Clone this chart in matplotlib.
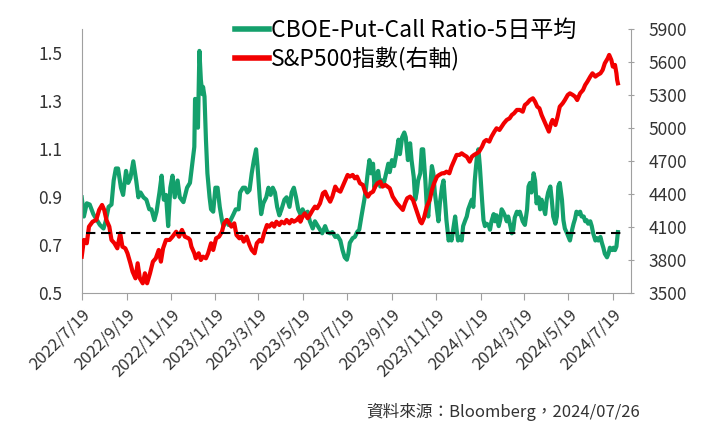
import matplotlib
matplotlib.use("Agg")
import matplotlib.pyplot as plt
from matplotlib.lines import Line2D
import numpy as np
import pandas as pd

plt.rcParams['font.family'] = ['Noto Sans CJK TC', 'DejaVu Sans']

# fecha base y días transcurridos
fecha_inicio = '2022-07-19'

pc_dias = [0, 3, 7, 11, 16, 21, 25, 30, 33, 37, 41, 44, 47, 50, 54, 57, 61, 64, 67, 71,
           75, 78, 81, 85, 89, 93, 96, 100, 103, 107, 110, 113, 116, 119, 122, 125, 128, 132, 135, 140,
           145,
           149, 153, 155, 156, 158, 160, 162, 164, 166, 167, 169, 171, 173, 176, 178, 181, 184, 187, 190,
           193, 195, 199, 202, 205, 209, 212, 216, 218, 222, 225, 228, 231, 234, 237, 240, 242, 245, 247,
           250, 254, 257, 260, 263, 266, 269, 272, 275, 279, 282, 286, 289, 292, 295, 298,
           301, 304, 307, 311, 314, 318, 321, 324, 328, 331, 335, 338, 342, 345, 349, 352, 356, 359, 362,
           365, 367, 369, 373, 376, 379, 382, 385, 389, 391, 394, 396, 398, 401, 403, 405, 408, 411, 413,
           416, 419, 422, 424, 427, 430, 433, 436, 438, 441, 444, 446, 449,
           452, 454, 457, 459, 461, 463, 466, 468, 470, 473, 475, 477, 479, 482, 484, 486, 489, 491, 493,
           496, 498, 500, 502, 505, 507, 509, 512, 514, 516, 518, 521, 523, 525, 528, 530, 532, 535, 537,
           539, 541, 544, 546, 548, 551, 553, 555, 557, 560, 562, 564, 567, 569, 571, 574, 576, 578, 580,
           583, 585, 587, 590, 592, 594, 596, 599, 601,
           603, 607, 610, 613, 615, 617, 619, 622, 624, 626, 629, 631, 633, 636, 638, 640, 642, 645, 647,
           649, 652, 654, 656, 658, 661, 663, 665, 668, 670, 672, 675, 677, 679, 681, 684, 686, 688, 691,
           693, 695, 697, 700, 702, 704, 707, 709, 711, 714, 716, 718, 720, 723, 725, 727, 730, 732, 734,
           736, 738]
pc_ratio = [0.90, 0.82, 0.875, 0.87, 0.83, 0.805, 0.785, 0.77, 0.80, 0.86, 0.87, 0.97, 1.02, 1.02, 0.94, 0.91, 1.01, 0.96, 0.98, 1.05,
            0.97, 0.90, 0.92, 0.90, 0.89, 0.85, 0.85, 0.805, 0.84, 0.92, 0.99, 0.89, 0.91, 0.78, 0.94, 0.99, 0.90, 0.97, 0.90, 0.88,
            0.94,
            0.96, 1.06, 1.11, 1.31, 1.29, 1.19, 1.51, 1.39, 1.33, 1.36, 1.32, 1.14, 1.00, 0.90, 0.85, 0.84, 0.94, 0.94, 0.86,
            0.805, 0.78, 0.805, 0.785, 0.805, 0.83, 0.85, 0.85, 0.92, 0.94, 0.94, 0.92, 0.93, 1.00, 1.055, 1.10, 1.03, 0.90, 0.83,
            0.875, 0.90, 0.94, 0.91, 0.94, 0.92, 0.86, 0.825, 0.85, 0.89, 0.90, 0.86, 0.92, 0.94, 0.90, 0.85,
            0.83, 0.85, 0.83, 0.84, 0.80, 0.77, 0.80, 0.785, 0.765, 0.75, 0.78, 0.755, 0.75, 0.755, 0.735, 0.74, 0.72, 0.68, 0.65,
            0.64, 0.665, 0.71, 0.73, 0.735, 0.755, 0.765, 0.82, 0.89, 0.93, 1.01, 1.055, 1.00, 1.04, 0.94, 0.985, 1.01, 0.945, 0.97,
            0.96, 1.00, 1.04, 1.005, 1.055, 1.03, 1.08, 1.14, 1.08, 1.15, 1.17, 1.15, 1.055,
            1.125, 1.055, 0.985, 0.89, 0.92, 0.97, 1.00, 1.10, 1.10, 0.97, 0.86, 0.82, 0.92, 1.03, 1.00, 0.92, 0.85, 0.80, 0.875,
            0.945, 0.97, 0.89, 0.805, 0.72, 0.735, 0.72, 0.78, 0.82, 0.765, 0.72, 0.735, 0.72, 0.78, 0.805, 0.82, 0.85, 0.875, 0.89,
            0.86, 0.97, 1.07, 1.10, 1.03, 0.89, 0.805, 0.78, 0.79, 0.785, 0.765, 0.80, 0.83, 0.80, 0.825, 0.78, 0.805, 0.85, 0.84,
            0.82, 0.80, 0.82, 0.78, 0.75, 0.765, 0.815, 0.84, 0.83,
            0.84, 0.80, 0.785, 0.85, 0.945, 0.96, 0.92, 1.00, 0.97, 0.875, 0.90, 0.85, 0.89, 0.855, 0.83, 0.89, 0.92, 0.945, 0.89,
            0.82, 0.79, 0.82, 0.945, 0.96, 0.89, 0.805, 0.77, 0.75, 0.735, 0.72, 0.765, 0.79, 0.81, 0.84, 0.83, 0.84, 0.82, 0.82,
            0.80, 0.805, 0.79, 0.80, 0.78, 0.75, 0.72, 0.73, 0.72, 0.735, 0.71, 0.69, 0.665, 0.65, 0.665, 0.69, 0.68, 0.69, 0.68,
            0.695, 0.755]

spx_dias = [0, 3, 7, 10, 15, 20, 24, 28, 31, 34, 38, 41, 45, 49, 53, 56, 60, 63, 67, 70,
            74, 77, 80, 84, 87, 90, 94, 98, 102, 106, 109, 112, 116, 121, 125, 130, 134, 138, 142, 147,
            149, 151, 155, 157, 161, 164, 167, 171, 174, 178, 181, 185, 189, 193, 196, 200, 203, 206, 210,
            213, 217, 220, 223, 227, 231, 234, 238, 241, 245, 248, 251, 255, 258, 262, 265, 268, 272, 275,
            279, 282, 286, 289, 292, 296, 300,
            301, 304, 307, 311, 314, 318, 321, 324, 328, 332, 335, 338, 342, 345, 349, 352, 356, 359, 362,
            366, 369, 373, 376, 379, 383, 387, 390, 394, 397, 401, 404, 407, 411, 414, 418, 421, 424, 428,
            431, 434, 438, 442, 445, 448,
            452, 456, 459, 462, 466, 468, 471, 475, 479, 482, 485, 489, 492, 496, 499, 502, 506, 509, 512,
            516, 520, 523, 526, 530, 534, 537, 540, 544, 547, 551, 554, 557, 561, 564, 568, 571, 575, 578,
            581, 585, 589, 592, 595, 599, 602,
            603, 607, 610, 613, 617, 621, 624, 627, 630, 633, 636, 640, 643, 646, 648, 652, 655, 658, 662,
            665, 669, 672, 676, 679, 682, 686, 690, 693, 696, 700, 703, 707, 710, 714, 717, 720, 724, 726,
            729, 731, 734, 736, 737, 738]
spx = [3833, 3985, 3955, 4106, 4151, 4167, 4258, 4303, 4258, 4167, 4106, 3985, 3955, 3909, 4045, 3924, 3909, 3864, 3773, 3697,
       3636, 3773, 3636, 3591, 3682, 3591, 3682, 3788, 3818, 3894, 3788, 3909, 3985, 3985, 4015, 4060, 4015, 4076, 4015, 4000,
       3985, 3924, 3864, 3818, 3864, 3803, 3833, 3818, 3864, 3955, 3894, 4000, 4015, 4060, 4136, 4167, 4136, 4106, 4136,
       4030, 4000, 4015, 3970, 4015, 3939, 3894, 3864, 3955, 3985, 3970, 4045, 4121, 4106, 4136, 4106, 4151, 4121, 4151,
       4136, 4167, 4136, 4167, 4151, 4167, 4197,
       4151, 4197, 4227, 4182, 4212, 4258, 4288, 4273, 4318, 4409, 4424, 4379, 4333, 4379, 4470, 4439, 4424, 4470, 4515,
       4576, 4561, 4576, 4545, 4561, 4500, 4485, 4424, 4379, 4409, 4424, 4470, 4500, 4515, 4470, 4485, 4470, 4455, 4379,
       4348, 4318, 4288, 4258, 4318, 4364,
       4379, 4348, 4288, 4227, 4151, 4136, 4182, 4288, 4348, 4439, 4500, 4561, 4576, 4591, 4591, 4606, 4591, 4651, 4697,
       4758, 4758, 4773, 4758, 4742, 4697, 4742, 4758, 4773, 4788, 4833, 4879, 4894, 4879, 4924, 4970, 5000, 4985, 5015,
       5045, 5076, 5091, 5121, 5136, 5167, 5167,
       5167, 5151, 5212, 5227, 5257, 5273, 5242, 5197, 5182, 5121, 5076, 5015, 4970, 5045, 5076, 5030, 5106, 5197, 5227,
       5257, 5303, 5318, 5303, 5288, 5257, 5318, 5348, 5394, 5424, 5470, 5500, 5470, 5485, 5500, 5530, 5591, 5636, 5667,
       5621, 5561, 5576, 5500, 5439, 5409]

umbral = 0.75
fechas_ticks = ['2022-07-19', '2022-09-19', '2022-11-19', '2023-01-19', '2023-03-19', '2023-05-19', '2023-07-19',
                '2023-09-19', '2023-11-19', '2024-01-19', '2024-03-19', '2024-05-19', '2024-07-19']
ticks_izq = [0.5, 0.7, 0.9, 1.1, 1.3, 1.5]
ticks_der = [3500, 3800, 4100, 4400, 4700, 5000, 5300, 5600, 5900]

nombre_pc = 'CBOE-Put-Call Ratio-5日平均'
nombre_spx = 'S&P500指數(右軸)'
fuente = '資料來源：Bloomberg，2024/07/26'

verde = '#14a06c'
rojo = '#f20000'
gris = '#a0a0a0'

t0 = pd.Timestamp(fecha_inicio)
x_pc = t0 + pd.to_timedelta(pc_dias, unit='D')
x_spx = t0 + pd.to_timedelta(spx_dias, unit='D')
xt = pd.to_datetime(fechas_ticks)

fig = plt.figure(figsize=(7.25, 4.29), dpi=100)
ax = fig.add_axes([0.1127, 0.3163, 0.7576, 0.6154])
ax2 = ax.twinx()

ax.plot(x_pc, pc_ratio, color=verde, lw=3.0, solid_joinstyle='round')
ax2.plot(x_spx, spx, color=rojo, lw=3.0, solid_joinstyle='round')

# linea punteada sobre todo
linea = Line2D([0.008, 0.99], [umbral, umbral], transform=ax.get_yaxis_transform(),
               color='black', lw=1.5, ls=(0, (4.5, 2.7)), zorder=5)
ax2.add_line(linea)

ax.set_ylim(0.5, 1.6)
ax2.set_ylim(3500, 5900)
ax.set_xlim(t0, t0 + pd.Timedelta(days=756))

ax.set_yticks(ticks_izq)
ax.set_yticklabels([f'{v:.1f}' for v in ticks_izq])
ax2.set_yticks(ticks_der)
ax.set_xticks(xt)
ax.set_xticklabels([f'{d.year}/{d.month}/{d.day}' for d in xt], rotation=45, ha='right',
                   rotation_mode='anchor')

for s in ['top']:
    ax.spines[s].set_visible(False)
    ax2.spines[s].set_visible(False)
for s in ['left', 'bottom']:
    ax.spines[s].set_color(gris)
ax2.spines['right'].set_color(gris)
ax2.spines['left'].set_visible(False)
ax2.spines['bottom'].set_visible(False)
ax.spines['right'].set_visible(False)

ax.tick_params(axis='y', length=0, pad=14, labelsize=12.5, labelcolor='#333333')
ax.tick_params(axis='x', length=5, color=gris, pad=4, labelsize=12, labelcolor='#333333')
ax2.tick_params(axis='y', length=5, color=gris, direction='inout', pad=10, labelsize=12.5,
                labelcolor='#333333')

h1 = Line2D([], [], color=verde, lw=4)
h2 = Line2D([], [], color=rojo, lw=4)
fig.legend([h1, h2], [nombre_pc, nombre_spx], loc='upper left', bbox_to_anchor=(0.312, 0.978),
           frameon=False, fontsize=16.5, handlelength=1.45, handletextpad=0.12, labelspacing=0.22,
           borderaxespad=0)

fig.text(0.882, 1 - 412 / 429, fuente, ha='right', va='center', fontsize=12, color='#333333')

fig.savefig('out.png', dpi=100)
